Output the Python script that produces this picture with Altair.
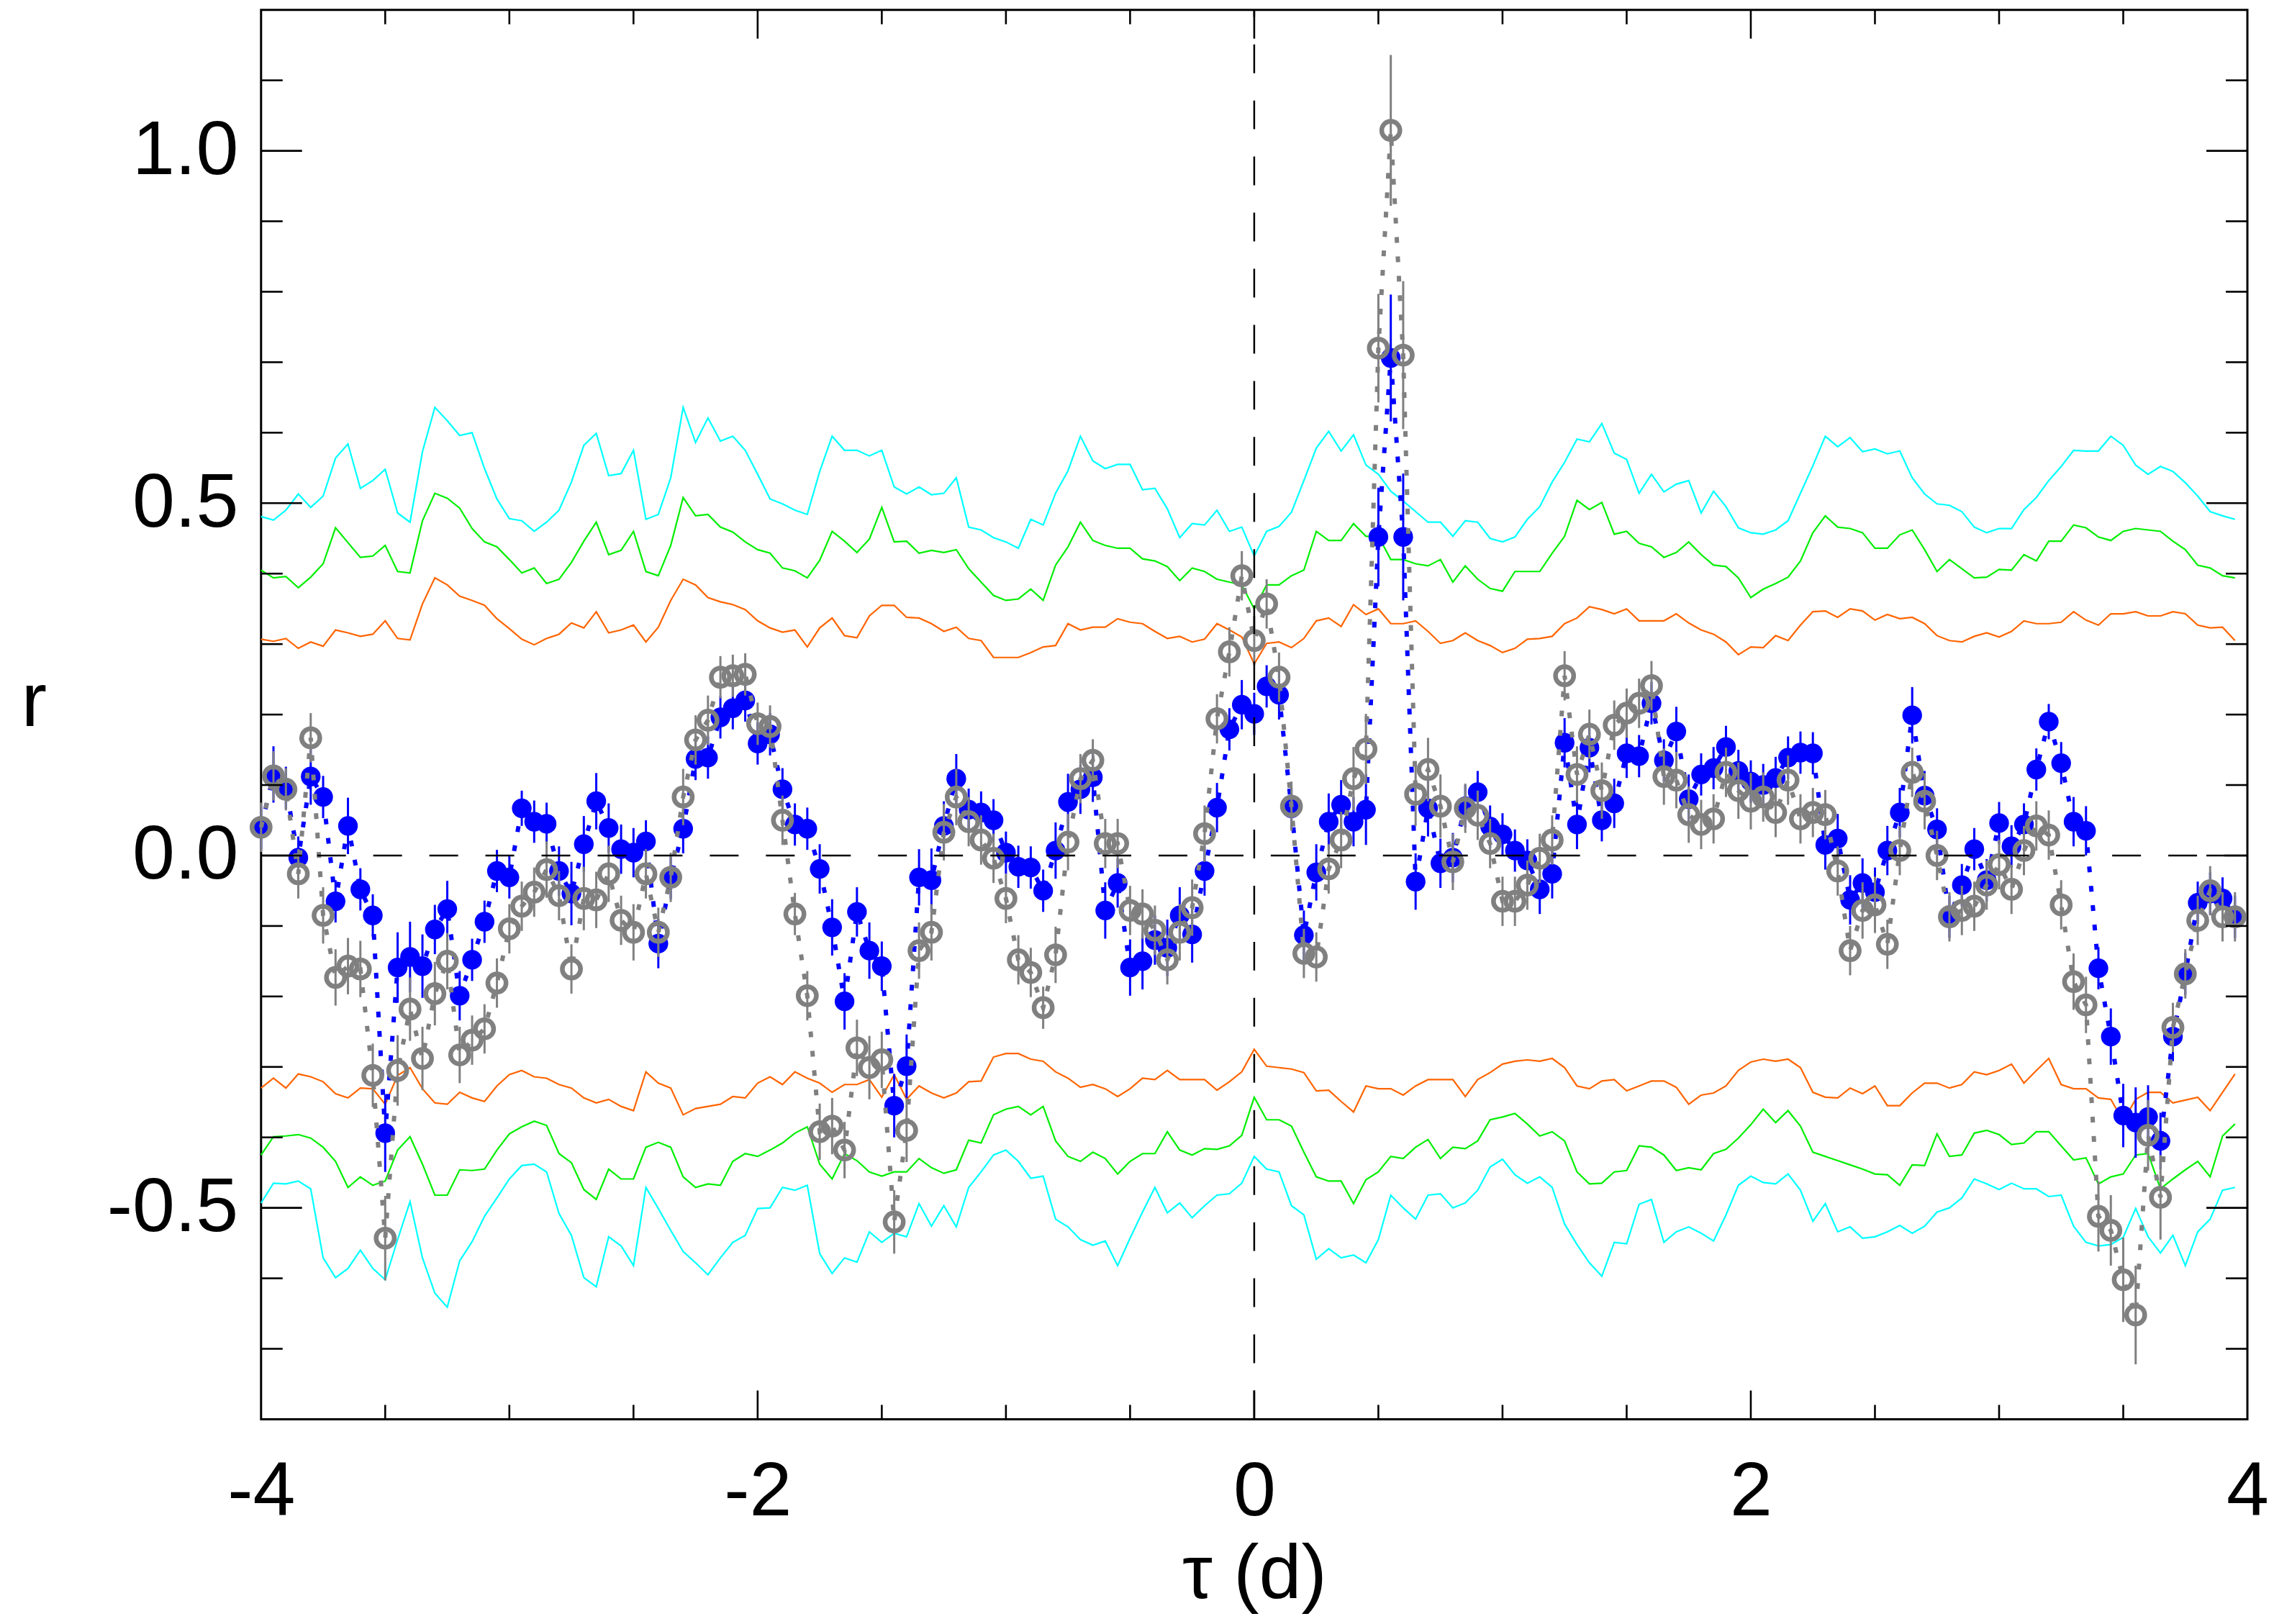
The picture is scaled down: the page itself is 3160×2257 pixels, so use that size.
import altair as alt
import pandas as pd

# lag grid (d)
tau = [round(-4 + 0.05 * i, 2) for i in range(160)]

# significance envelopes
cyan_up = [0.481, 0.476, 0.490, 0.513, 0.494, 0.510, 0.564, 0.584, 0.521, 0.532, 0.548, 0.486, 0.473, 0.573, 0.636, 0.617, 0.596, 0.600, 0.549, 0.506, 0.478,
           0.475, 0.460, 0.473, 0.490, 0.530, 0.582, 0.599, 0.539, 0.542, 0.575, 0.477, 0.484, 0.536, 0.636, 0.586, 0.621, 0.588, 0.595, 0.575, 0.541,
           0.506, 0.499, 0.490, 0.484, 0.545, 0.595, 0.575, 0.575, 0.567, 0.575, 0.523, 0.513, 0.523, 0.512, 0.514, 0.536, 0.466, 0.462, 0.451, 0.445,
           0.436, 0.477, 0.469, 0.514, 0.546, 0.595, 0.560, 0.549, 0.555, 0.555, 0.519, 0.521, 0.492, 0.451, 0.471, 0.469, 0.490, 0.460, 0.466, 0.425,
           0.460, 0.467, 0.487, 0.532, 0.578, 0.602, 0.574, 0.597, 0.554, 0.541, 0.517, 0.503, 0.488, 0.473, 0.473, 0.453, 0.475, 0.473, 0.450, 0.445,
           0.452, 0.477, 0.495, 0.530, 0.558, 0.591, 0.587, 0.613, 0.571, 0.562, 0.514, 0.541, 0.516, 0.527, 0.532, 0.486, 0.517, 0.495, 0.465, 0.458,
           0.456, 0.462, 0.475, 0.514, 0.553, 0.595, 0.580, 0.593, 0.573, 0.577, 0.570, 0.574, 0.536, 0.513, 0.499, 0.497, 0.488, 0.466, 0.458, 0.464,
           0.464, 0.491, 0.508, 0.532, 0.552, 0.575, 0.574, 0.574, 0.595, 0.582, 0.554, 0.541, 0.552, 0.545, 0.529, 0.510, 0.488, 0.482, 0.477]
green_up = [0.405, 0.394, 0.396, 0.380, 0.395, 0.414, 0.465, 0.444, 0.423, 0.425, 0.440, 0.403, 0.401, 0.475, 0.514, 0.507, 0.493, 0.464, 0.445, 0.438, 0.420,
            0.401, 0.408, 0.386, 0.392, 0.416, 0.446, 0.473, 0.427, 0.433, 0.460, 0.403, 0.397, 0.440, 0.508, 0.482, 0.484, 0.466, 0.459, 0.445, 0.434,
            0.429, 0.408, 0.404, 0.394, 0.419, 0.460, 0.446, 0.430, 0.449, 0.494, 0.445, 0.446, 0.429, 0.433, 0.430, 0.434, 0.407, 0.388, 0.369, 0.362,
            0.364, 0.378, 0.362, 0.412, 0.438, 0.473, 0.447, 0.440, 0.436, 0.436, 0.421, 0.418, 0.410, 0.390, 0.408, 0.403, 0.392, 0.388, 0.384, 0.350,
            0.384, 0.384, 0.397, 0.405, 0.460, 0.447, 0.447, 0.471, 0.453, 0.453, 0.420, 0.420, 0.414, 0.411, 0.420, 0.388, 0.411, 0.392, 0.379, 0.375,
            0.403, 0.403, 0.403, 0.429, 0.453, 0.504, 0.491, 0.501, 0.456, 0.460, 0.443, 0.438, 0.423, 0.430, 0.445, 0.427, 0.412, 0.410, 0.394, 0.366,
            0.378, 0.386, 0.395, 0.418, 0.458, 0.482, 0.466, 0.464, 0.458, 0.436, 0.436, 0.455, 0.462, 0.434, 0.403, 0.420, 0.407, 0.394, 0.395, 0.406,
            0.405, 0.427, 0.418, 0.446, 0.446, 0.469, 0.465, 0.452, 0.447, 0.460, 0.464, 0.462, 0.460, 0.446, 0.434, 0.412, 0.408, 0.397, 0.394]
orange_up = [0.307, 0.304, 0.308, 0.294, 0.303, 0.297, 0.320, 0.316, 0.311, 0.314, 0.333, 0.308, 0.306, 0.357, 0.394, 0.384, 0.368, 0.362, 0.355, 0.336, 0.322,
             0.307, 0.299, 0.308, 0.314, 0.330, 0.323, 0.346, 0.316, 0.320, 0.327, 0.303, 0.324, 0.362, 0.392, 0.384, 0.366, 0.360, 0.356, 0.349, 0.333,
             0.323, 0.317, 0.320, 0.296, 0.323, 0.337, 0.312, 0.309, 0.340, 0.355, 0.355, 0.338, 0.337, 0.329, 0.318, 0.324, 0.308, 0.305, 0.281, 0.281,
             0.281, 0.288, 0.296, 0.298, 0.329, 0.320, 0.324, 0.324, 0.336, 0.331, 0.329, 0.318, 0.308, 0.311, 0.303, 0.307, 0.329, 0.320, 0.310, 0.272,
             0.301, 0.303, 0.295, 0.308, 0.333, 0.337, 0.325, 0.356, 0.342, 0.350, 0.329, 0.329, 0.333, 0.318, 0.301, 0.305, 0.316, 0.305, 0.298, 0.288,
             0.294, 0.307, 0.308, 0.311, 0.329, 0.337, 0.353, 0.349, 0.343, 0.350, 0.333, 0.333, 0.333, 0.343, 0.330, 0.320, 0.314, 0.303, 0.285, 0.296,
             0.295, 0.312, 0.305, 0.327, 0.346, 0.347, 0.338, 0.350, 0.347, 0.334, 0.342, 0.336, 0.338, 0.329, 0.312, 0.305, 0.303, 0.311, 0.316, 0.310,
             0.318, 0.333, 0.329, 0.329, 0.331, 0.346, 0.334, 0.327, 0.343, 0.343, 0.346, 0.340, 0.340, 0.346, 0.343, 0.327, 0.323, 0.324, 0.305]
orange_lo = [-0.330, -0.316, -0.330, -0.310, -0.314, -0.321, -0.338, -0.344, -0.330, -0.331, -0.353, -0.312, -0.301, -0.331, -0.351, -0.353, -0.336, -0.344, -0.349, -0.327, -0.311,
             -0.305, -0.314, -0.316, -0.325, -0.330, -0.344, -0.351, -0.346, -0.356, -0.362, -0.307, -0.323, -0.330, -0.368, -0.359, -0.356, -0.353, -0.342, -0.344, -0.323,
             -0.314, -0.325, -0.307, -0.316, -0.323, -0.336, -0.325, -0.325, -0.318, -0.343, -0.311, -0.346, -0.327, -0.337, -0.344, -0.337, -0.321, -0.320, -0.286, -0.281,
             -0.281, -0.289, -0.292, -0.307, -0.316, -0.329, -0.325, -0.331, -0.342, -0.331, -0.316, -0.318, -0.305, -0.318, -0.318, -0.318, -0.333, -0.321, -0.307, -0.275,
             -0.299, -0.301, -0.303, -0.308, -0.334, -0.333, -0.349, -0.364, -0.327, -0.331, -0.331, -0.340, -0.327, -0.318, -0.318, -0.318, -0.342, -0.318, -0.308, -0.296,
             -0.292, -0.290, -0.292, -0.288, -0.301, -0.327, -0.331, -0.320, -0.318, -0.334, -0.327, -0.320, -0.320, -0.329, -0.353, -0.340, -0.337, -0.327, -0.305, -0.293,
             -0.289, -0.292, -0.289, -0.301, -0.336, -0.343, -0.344, -0.330, -0.338, -0.327, -0.355, -0.355, -0.337, -0.323, -0.323, -0.330, -0.325, -0.307, -0.311, -0.305,
             -0.296, -0.323, -0.305, -0.288, -0.325, -0.331, -0.331, -0.344, -0.346, -0.377, -0.346, -0.336, -0.336, -0.351, -0.347, -0.343, -0.362, -0.336, -0.310]
green_lo = [-0.425, -0.399, -0.398, -0.396, -0.401, -0.414, -0.434, -0.471, -0.456, -0.468, -0.462, -0.418, -0.399, -0.438, -0.482, -0.482, -0.446, -0.447, -0.445, -0.418, -0.395,
            -0.385, -0.377, -0.383, -0.423, -0.436, -0.474, -0.488, -0.445, -0.459, -0.459, -0.414, -0.407, -0.414, -0.456, -0.471, -0.466, -0.468, -0.434, -0.423, -0.427,
            -0.418, -0.408, -0.394, -0.385, -0.438, -0.459, -0.423, -0.433, -0.449, -0.455, -0.449, -0.449, -0.430, -0.443, -0.451, -0.446, -0.404, -0.408, -0.368, -0.360,
            -0.356, -0.368, -0.356, -0.405, -0.427, -0.434, -0.421, -0.430, -0.452, -0.434, -0.423, -0.423, -0.392, -0.418, -0.425, -0.416, -0.417, -0.412, -0.397, -0.343,
            -0.375, -0.375, -0.384, -0.421, -0.456, -0.462, -0.462, -0.494, -0.460, -0.449, -0.427, -0.430, -0.414, -0.403, -0.430, -0.414, -0.416, -0.405, -0.375, -0.371,
            -0.366, -0.381, -0.398, -0.392, -0.405, -0.449, -0.466, -0.465, -0.449, -0.447, -0.412, -0.414, -0.425, -0.447, -0.443, -0.446, -0.423, -0.417, -0.401, -0.382,
            -0.360, -0.379, -0.362, -0.384, -0.421, -0.427, -0.433, -0.439, -0.445, -0.452, -0.453, -0.468, -0.439, -0.440, -0.395, -0.427, -0.425, -0.394, -0.390, -0.396,
            -0.410, -0.408, -0.392, -0.392, -0.412, -0.432, -0.429, -0.466, -0.456, -0.452, -0.425, -0.423, -0.473, -0.459, -0.446, -0.434, -0.456, -0.398, -0.381]
cyan_lo = [-0.493, -0.465, -0.466, -0.462, -0.473, -0.571, -0.599, -0.586, -0.560, -0.586, -0.602, -0.545, -0.491, -0.571, -0.621, -0.641, -0.575, -0.548, -0.512, -0.486, -0.459,
           -0.440, -0.438, -0.449, -0.508, -0.539, -0.599, -0.612, -0.541, -0.554, -0.582, -0.471, -0.501, -0.532, -0.562, -0.578, -0.595, -0.571, -0.549, -0.539, -0.501,
           -0.500, -0.471, -0.475, -0.468, -0.565, -0.593, -0.571, -0.577, -0.534, -0.549, -0.536, -0.541, -0.494, -0.526, -0.497, -0.527, -0.471, -0.449, -0.425, -0.418,
           -0.434, -0.458, -0.455, -0.516, -0.527, -0.545, -0.553, -0.547, -0.582, -0.543, -0.506, -0.471, -0.507, -0.493, -0.514, -0.497, -0.482, -0.480, -0.465, -0.427,
           -0.445, -0.449, -0.497, -0.510, -0.573, -0.558, -0.571, -0.567, -0.578, -0.545, -0.482, -0.500, -0.516, -0.482, -0.480, -0.500, -0.493, -0.475, -0.442, -0.431,
           -0.453, -0.465, -0.456, -0.471, -0.523, -0.552, -0.578, -0.597, -0.549, -0.551, -0.495, -0.488, -0.549, -0.534, -0.527, -0.536, -0.547, -0.510, -0.468, -0.455,
           -0.464, -0.466, -0.452, -0.475, -0.519, -0.494, -0.534, -0.527, -0.543, -0.541, -0.534, -0.525, -0.536, -0.526, -0.506, -0.500, -0.486, -0.459, -0.466, -0.474,
           -0.465, -0.473, -0.473, -0.484, -0.482, -0.526, -0.549, -0.554, -0.552, -0.542, -0.501, -0.541, -0.564, -0.539, -0.582, -0.534, -0.516, -0.475, -0.471]

# filled blue series and its errors
blue_r = [0.039, 0.115, 0.096, -0.003, 0.112, 0.083, -0.065, 0.042, -0.048, -0.085, -0.394, -0.159, -0.144, -0.157, -0.105, -0.076, -0.199, -0.148, -0.094, -0.022, -0.031,
          0.067, 0.048, 0.045, -0.022, -0.054, 0.016, 0.077, 0.039, 0.009, 0.004, 0.020, -0.125, -0.032, 0.038, 0.137, 0.139, 0.196, 0.209, 0.220, 0.159,
          0.172, 0.094, 0.044, 0.038, -0.019, -0.102, -0.207, -0.080, -0.135, -0.157, -0.355, -0.299, -0.031, -0.035, 0.042, 0.109, 0.065, 0.061, 0.050, 0.004,
          -0.016, -0.017, -0.050, 0.007, 0.076, 0.094, 0.111, -0.078, -0.039, -0.159, -0.150, -0.120, -0.131, -0.085, -0.112, -0.022, 0.068, 0.179, 0.214, 0.201,
          0.240, 0.228, 0.067, -0.113, -0.024, 0.048, 0.072, 0.048, 0.065, 0.452, 0.706, 0.452, -0.037, 0.067, -0.011, -0.003, 0.070, 0.090, 0.041, 0.030,
          0.007, -0.007, -0.048, -0.026, 0.160, 0.044, 0.153, 0.050, 0.074, 0.145, 0.141, 0.216, 0.135, 0.176, 0.080, 0.115, 0.124, 0.154, 0.120, 0.105,
          0.100, 0.110, 0.139, 0.146, 0.145, 0.015, 0.024, -0.063, -0.039, -0.052, 0.007, 0.061, 0.199, 0.085, 0.037, -0.087, -0.042, 0.009, -0.035, 0.046,
          0.013, 0.044, 0.122, 0.190, 0.131, 0.048, 0.035, -0.160, -0.257, -0.369, -0.379, -0.371, -0.405, -0.257, -0.168, -0.067, -0.054, -0.061, -0.087]
blue_e = [0.03, 0.04, 0.03, 0.03, 0.04, 0.03, 0.03, 0.04, 0.03, 0.03, 0.055, 0.05, 0.05, 0.045, 0.035, 0.04, 0.035, 0.03, 0.03, 0.03, 0.03,
          0.025, 0.03, 0.03, 0.035, 0.045, 0.04, 0.04, 0.035, 0.035, 0.035, 0.03, 0.035, 0.03, 0.035, 0.03, 0.03, 0.03, 0.03, 0.03, 0.03,
          0.03, 0.03, 0.03, 0.03, 0.035, 0.04, 0.04, 0.035, 0.04, 0.035, 0.045, 0.045, 0.04, 0.045, 0.035, 0.035, 0.03, 0.03, 0.03, 0.03,
          0.03, 0.03, 0.03, 0.04, 0.04, 0.035, 0.035, 0.04, 0.035, 0.04, 0.04, 0.035, 0.04, 0.04, 0.04, 0.035, 0.035, 0.03, 0.035, 0.03,
          0.03, 0.035, 0.03, 0.035, 0.04, 0.04, 0.035, 0.035, 0.05, 0.07, 0.09, 0.09, 0.04, 0.04, 0.035, 0.035, 0.03, 0.03, 0.03, 0.03,
          0.03, 0.03, 0.035, 0.035, 0.035, 0.035, 0.035, 0.03, 0.035, 0.035, 0.03, 0.03, 0.03, 0.035, 0.035, 0.03, 0.03, 0.03, 0.03, 0.03,
          0.03, 0.03, 0.03, 0.03, 0.03, 0.035, 0.035, 0.035, 0.035, 0.035, 0.035, 0.035, 0.04, 0.035, 0.03, 0.03, 0.03, 0.03, 0.03, 0.03,
          0.03, 0.03, 0.03, 0.025, 0.03, 0.035, 0.035, 0.03, 0.04, 0.045, 0.05, 0.045, 0.04, 0.035, 0.03, 0.03, 0.03, 0.03, 0.03]

# open grey series and its errors
grey_r = [0.040, 0.113, 0.094, -0.026, 0.167, -0.085, -0.173, -0.157, -0.161, -0.312, -0.543, -0.305, -0.218, -0.288, -0.196, -0.150, -0.283, -0.262, -0.246, -0.181, -0.104,
          -0.072, -0.052, -0.020, -0.057, -0.161, -0.061, -0.063, -0.026, -0.092, -0.109, -0.026, -0.109, -0.031, 0.083, 0.164, 0.192, 0.253, 0.255, 0.257, 0.187,
          0.183, 0.050, -0.083, -0.199, -0.392, -0.384, -0.418, -0.273, -0.301, -0.290, -0.520, -0.390, -0.135, -0.109, 0.033, 0.083, 0.048, 0.022, -0.004, -0.061,
          -0.148, -0.166, -0.216, -0.141, 0.019, 0.109, 0.135, 0.017, 0.017, -0.078, -0.083, -0.106, -0.148, -0.109, -0.074, 0.031, 0.194, 0.289, 0.397, 0.305,
          0.357, 0.253, 0.070, -0.139, -0.144, -0.019, 0.022, 0.109, 0.151, 0.720, 1.029, 0.710, 0.087, 0.122, 0.070, -0.009, 0.067, 0.057, 0.017, -0.065,
          -0.065, -0.042, -0.004, 0.022, 0.255, 0.115, 0.172, 0.092, 0.185, 0.202, 0.216, 0.241, 0.112, 0.107, 0.058, 0.044, 0.052, 0.118, 0.092, 0.077,
          0.083, 0.061, 0.107, 0.052, 0.061, 0.058, -0.022, -0.135, -0.078, -0.070, -0.126, 0.007, 0.118, 0.077, 0.000, -0.087, -0.078, -0.072, -0.042, -0.013,
          -0.048, 0.007, 0.042, 0.029, -0.070, -0.179, -0.212, -0.512, -0.532, -0.602, -0.652, -0.397, -0.485, -0.244, -0.168, -0.092, -0.050, -0.087, -0.087]
grey_e = [0.035, 0.035, 0.03, 0.035, 0.035, 0.04, 0.04, 0.04, 0.04, 0.045, 0.06, 0.05, 0.045, 0.045, 0.045, 0.04, 0.04, 0.035, 0.035, 0.035, 0.035,
          0.035, 0.035, 0.04, 0.035, 0.035, 0.045, 0.04, 0.04, 0.035, 0.04, 0.035, 0.035, 0.035, 0.04, 0.035, 0.035, 0.03, 0.03, 0.03, 0.03,
          0.03, 0.035, 0.03, 0.035, 0.04, 0.04, 0.04, 0.04, 0.045, 0.04, 0.045, 0.045, 0.04, 0.04, 0.04, 0.04, 0.035, 0.035, 0.035, 0.035,
          0.035, 0.035, 0.03, 0.04, 0.04, 0.035, 0.03, 0.035, 0.035, 0.035, 0.035, 0.035, 0.035, 0.04, 0.04, 0.04, 0.035, 0.035, 0.035, 0.035,
          0.035, 0.035, 0.035, 0.035, 0.035, 0.035, 0.04, 0.045, 0.05, 0.077, 0.107, 0.105, 0.045, 0.045, 0.045, 0.04, 0.035, 0.035, 0.035, 0.035,
          0.035, 0.035, 0.035, 0.035, 0.035, 0.04, 0.035, 0.04, 0.035, 0.035, 0.035, 0.035, 0.04, 0.04, 0.04, 0.035, 0.035, 0.035, 0.04, 0.04,
          0.035, 0.035, 0.035, 0.035, 0.035, 0.035, 0.035, 0.035, 0.04, 0.04, 0.035, 0.035, 0.035, 0.04, 0.035, 0.035, 0.035, 0.035, 0.035, 0.035,
          0.035, 0.035, 0.035, 0.035, 0.035, 0.04, 0.04, 0.05, 0.05, 0.06, 0.07, 0.05, 0.06, 0.035, 0.035, 0.035, 0.035, 0.035, 0.035]

x_labels = [-4, -2, 0, 2, 4]
y_labels = [-0.5, 0.0, 0.5, 1.0]
x_major = [-2, 0, 2]
x_minor = [-3.5, -3, -2.5, -1.5, -1, -0.5, 0.5, 1, 1.5, 2.5, 3, 3.5]
y_major = [-0.5, 0.0, 0.5, 1.0]
y_minor = [-0.7, -0.6, -0.4, -0.3, -0.2, -0.1, 0.1, 0.2, 0.3, 0.4, 0.6, 0.7, 0.8, 0.9, 1.1]

W, H = 2762, 1960
FONT = "Liberation Sans"
FS = 106

names = ["cu", "gu", "ou", "ol", "gl", "cl"]
colors = ["#00ffff", "#00ee00", "#ff6400", "#ff6400", "#00ee00", "#00ffff"]
env = pd.concat([pd.DataFrame({"tau": tau, "r": v, "s": n})
                 for n, v in zip(names, [cyan_up, green_up, orange_up, orange_lo, green_lo, cyan_lo])])

blue = pd.DataFrame({"tau": tau, "r": blue_r, "e": blue_e})
blue["lo"] = blue["r"] - blue["e"]
blue["hi"] = blue["r"] + blue["e"]
grey = pd.DataFrame({"tau": tau, "r": grey_r, "e": grey_e})
grey["lo"] = grey["r"] - grey["e"]
grey["hi"] = grey["r"] + grey["e"]

xs = alt.Scale(domain=[-4, 4], nice=False, zero=False)
ys = alt.Scale(domain=[-0.8, 1.2], nice=False, zero=False)

xax = alt.Axis(values=x_labels,
               labelExpr="datum.value < 0 ? '-' + format(-datum.value, 'd') : format(datum.value, 'd')",
               labelFont=FONT, labelFontSize=FS, labelColor="black", labelPadding=49, labelLimit=600,
               labelFlush=False, labelOverlap=False, ticks=False, tickSize=0, domain=False, grid=False,
               title="τ (d)", titleFont=FONT, titleFontSize=FS, titleFontWeight="normal", titleColor="black",
               titleY=248, titleBaseline="alphabetic", titleLimit=2000)
yax = alt.Axis(values=y_labels,
               labelExpr="datum.value < 0 ? '-' + format(-datum.value, '.1f') : format(datum.value, '.1f')",
               labelFont=FONT, labelFontSize=FS, labelColor="black", labelPadding=32, labelLimit=600,
               labelOverlap=False, labelFlush=False, ticks=False, tickSize=0, domain=False, grid=False,
               title="r", titleFont=FONT, titleFontSize=FS, titleFontWeight="normal", titleColor="black",
               titleAngle=0, titleX=-316, titleY=995, titleAlign="center", titleBaseline="alphabetic",
               titleLimit=2000)


def X(f):
    return alt.X(f, type="quantitative", scale=xs, axis=xax)


def Y(f):
    return alt.Y(f, type="quantitative", scale=ys, axis=yax)


env_lines = alt.Chart(env).mark_line(strokeWidth=2.2).encode(
    x=X("tau"), y=Y("r"),
    color=alt.Color("s:N", scale=alt.Scale(domain=names, range=colors), legend=None),
    detail="s:N")

dot = dict(strokeWidth=6, strokeDash=[8, 19], strokeCap="butt")
blue_line = alt.Chart(blue).mark_line(color="#0000ff", **dot).encode(x=X("tau"), y=Y("r"))
blue_err = alt.Chart(blue).mark_rule(color="#0000ff", strokeWidth=3).encode(x=X("tau"), y=Y("lo"), y2="hi")
blue_pts = alt.Chart(blue).mark_point(shape="circle", filled=True, size=750, color="#0000ff",
                                      opacity=1, strokeWidth=0).encode(x=X("tau"), y=Y("r"))
grey_line = alt.Chart(grey).mark_line(color="#808080", **dot).encode(x=X("tau"), y=Y("r"))
grey_err = alt.Chart(grey).mark_rule(color="#808080", strokeWidth=3).encode(x=X("tau"), y=Y("lo"), y2="hi")
grey_pts = alt.Chart(grey).mark_point(shape="circle", filled=False, size=640, color="#808080",
                                      opacity=1, strokeWidth=6.5).encode(x=X("tau"), y=Y("r"))

zero_h = alt.Chart(pd.DataFrame({"a": [-4], "b": [4], "y": [0.0]})).mark_rule(
    color="black", strokeWidth=2.5, strokeDash=[40, 38]).encode(x=X("a"), x2="b", y=Y("y"))
zero_v = alt.Chart(pd.DataFrame({"x": [0.0], "a": [-0.8], "b": [1.2]})).mark_rule(
    color="black", strokeWidth=2.5, strokeDash=[40, 38]).encode(x=X("x"), y=Y("a"), y2="b")

tick_style = dict(color="black", strokeWidth=2.6)


def xticks(vals, ln):
    d = pd.DataFrame({"v": vals})
    bot = alt.Chart(d).mark_rule(**tick_style).encode(x=X("v"), y=alt.value(H), y2=alt.value(H - ln))
    top = alt.Chart(d).mark_rule(**tick_style).encode(x=X("v"), y=alt.value(0), y2=alt.value(ln))
    return [bot, top]


def yticks(vals, ln):
    d = pd.DataFrame({"v": vals})
    left = alt.Chart(d).mark_rule(**tick_style).encode(y=Y("v"), x=alt.value(0), x2=alt.value(ln))
    right = alt.Chart(d).mark_rule(**tick_style).encode(y=Y("v"), x=alt.value(W), x2=alt.value(W - ln))
    return [left, right]


layers = [env_lines, blue_line, blue_err, blue_pts, grey_line, grey_err, grey_pts, zero_h, zero_v]
layers += xticks(x_major, 40) + xticks(x_minor, 20) + yticks(y_major, 57) + yticks(y_minor, 30)

chart = alt.layer(*layers).properties(
    width=W, height=H,
    padding={"left": 355, "top": 5, "right": 29, "bottom": 280},
    autosize=alt.AutoSizeParams(type="none"),
    background="white",
).configure_view(stroke="black", strokeWidth=3)

chart.save("out.html", embed_options={"renderer": "svg", "actions": False})
